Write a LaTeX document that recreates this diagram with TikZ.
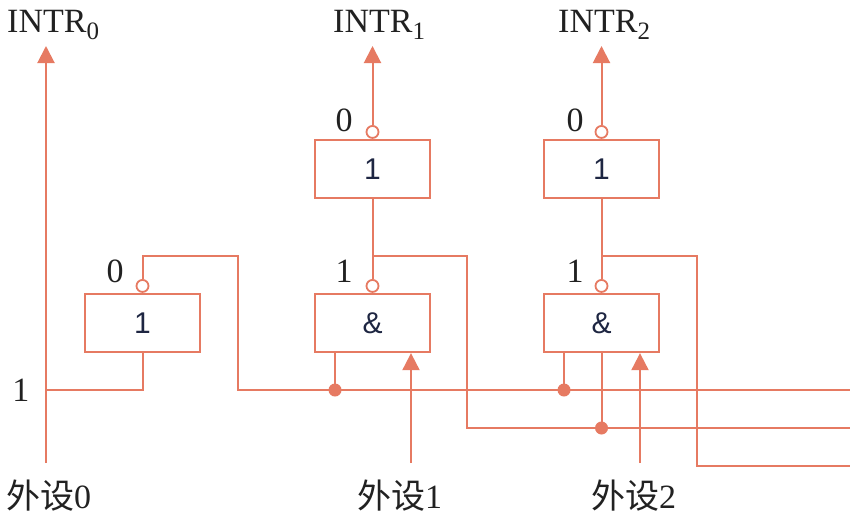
\documentclass[tikz,border=0pt]{standalone}
\usepackage{fontspec}
\setmainfont{Liberation Serif}
\newfontfamily\cjk{Noto Sans CJK SC}
\newfontfamily\gatefont{Liberation Sans}
\usepackage{xcolor}
\usepackage{tikz}
\usetikzlibrary{arrows.meta}
\usetikzlibrary{shapes,arrows}
\definecolor{wirecol}{RGB}{230,122,98}
\definecolor{gatetxt}{RGB}{30,38,66}
\tikzstyle{wire} = [wirecol,line width=2pt]
\tikzstyle{sig} = [wire,-{Triangle[length=17pt,width=17pt]}]
\tikzstyle{gate} = [draw=wirecol,line width=2.3pt,rectangle,minimum width=115pt,minimum height=58pt,inner sep=0pt,text=gatetxt]
\tikzstyle{inv} = [draw=wirecol,fill=white,line width=1.8pt,circle,minimum size=12pt,inner sep=0pt,anchor=south]
\tikzstyle{lbl} = [font=\fontsize{34}{38}\selectfont,text=black!87,inner sep=0pt,anchor=base]
\newcommand{\gtxt}[1]{{\gatefont\fontsize{30}{32}\selectfont #1}}
\newcommand{\intr}[1]{INTR\raisebox{-7pt}{\fontsize{25}{25}\selectfont #1}}

\begin{document}
\begin{tikzpicture}[x=1pt,y=-1pt]
            \useasboundingbox (0,0) rectangle (858,519);

            % gates
            \node[gate] (gA) at (142.5,323) {\gtxt{1}};
            \node[gate] (gB) at (372.5,323) {\gtxt{\&}};
            \node[gate] (gC) at (372.5,169) {\gtxt{1}};
            \node[gate] (gD) at (601.5,169) {\gtxt{1}};
            \node[gate] (gE) at (601.5,323) {\gtxt{\&}};
            \node[inv] (nA) at (gA.north) {};
            \node[inv] (nB) at (gB.north) {};
            \node[inv] (nC) at (gC.north) {};
            \node[inv] (nD) at (gD.north) {};
            \node[inv] (nE) at (gE.north) {};

            % points
            \coordinate (p0) at (46,463);
            \coordinate (p1) at (411,463);
            \coordinate (p2) at (640,463);
            \coordinate (i0) at (46,46);
            \coordinate (i1) at (372.5,46);
            \coordinate (i2) at (601.5,46);
            \coordinate (c0) at (46,390);
            \coordinate (a0) at (238,256);
            \coordinate (a1) at (467,256);
            \coordinate (a2) at (697,256);
            \coordinate (b0) at (850,390);
            \coordinate (b1) at (850,428);
            \coordinate (b2) at (850,466);
            \coordinate (d0) at (335,390);
            \coordinate (d1) at (564,390);
            \coordinate (d2) at (601.5,428);

            % wires
            \draw[sig] (p0) -- (i0);
            \draw[wire] (gA.south) |- (c0);
            \draw[wire] (nA.north) |- (a0) |- (b0);
            \draw[wire] (gC.south) -- (nB.north);
            \draw[wire] (a1 -| gC.south) -- (a1) |- (b1);
            \draw[wire] (gD.south) -- (nE.north);
            \draw[wire] (a2 -| gD.south) -- (a2) |- (b2);
            \draw[wire] (d0 |- gB.south) -- (d0);
            \draw[wire] (d1 |- gE.south) -- (d1);
            \draw[wire] (gE.south) -- (d2);
            \draw[sig] (p1) -- (p1 |- gB.south);
            \draw[sig] (p2) -- (p2 |- gE.south);
            \draw[sig] (nC.north) -- (i1);
            \draw[sig] (nD.north) -- (i2);
            \foreach \d in {d0,d1,d2}
                \fill[wirecol] (\d) circle (6.5pt);

            % labels
            \node[lbl,anchor=base west] (tI0) at (7,33) {\intr{0}};
            \node[lbl,anchor=base west] (tI1) at (333,33) {\intr{1}};
            \node[lbl,anchor=base west] (tI2) at (558,33) {\intr{2}};
            \node[lbl] (vC) at (344,131) {0};
            \node[lbl] (vD) at (575,131) {0};
            \node[lbl] (vA) at (115,282) {0};
            \node[lbl] (vB) at (344,282) {1};
            \node[lbl] (vE) at (575,282) {1};
            \node[lbl] (v0) at (21,401) {1};
            \node[lbl,anchor=base west] (tP0) at (6,508) {{\cjk 外设}0};
            \node[lbl,anchor=base west] (tP1) at (357,508) {{\cjk 外设}1};
            \node[lbl,anchor=base west] (tP2) at (591,508) {{\cjk 外设}2};
        \end{tikzpicture}
\end{document}
